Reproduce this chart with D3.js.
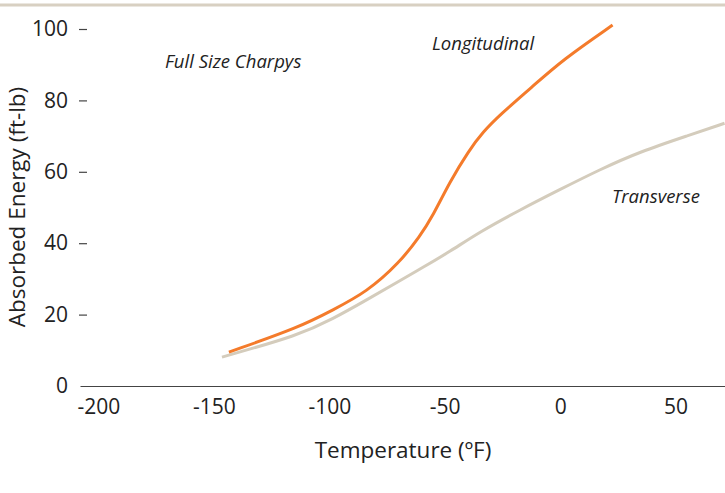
<!DOCTYPE html>
<html>
<head>
<meta charset="utf-8">
<script src="https://cdn.jsdelivr.net/npm/d3@7"></script>
<style>
  body { margin: 0; background: #fff; }
  svg text { font-family: "Open Sans", sans-serif; fill: #222; }
</style>
</head>
<body>
<svg id="chart" width="725" height="493"></svg>
<script>
// data
var xTicks = [-200, -150, -100, -50, 0, 50];
var yTicks = [0, 20, 40, 60, 80, 100];

var longTemp = [-143.5, -112.8, -98.5, -83.8, -69.5, -60.8, -55.2, -47.8, -39.5, -33.5, -26.2, -12.1, 0.9, 22.7];
var longEnergy = [9.5, 16.5, 21.3, 26.3, 34.6, 41.9, 47.6, 57.2, 66.0, 71.1, 75.9, 83.8, 91.3, 101.1];

var transTemp = [-146.5, -112.8, -98.5, -83.8, -69.5, -59.5, -47.9, -34.8, -17.5, -0.2, 17.1, 34.4, 56.1, 71.2];
var transEnergy = [8.1, 14.3, 18.8, 24.1, 29.5, 33.2, 37.6, 43.2, 49.3, 55.0, 60.6, 65.6, 70.3, 73.6];

window.onload = function(){

    var svg = d3.select("#chart");

    var x = d3.scaleLinear().domain([-208, 71.4]).range([80, 725]);
    var y = d3.scaleLinear().domain([0, 100]).range([386, 29]);

    // top rule
    svg.append('line')
            .attr('x1', 0).attr('x2', 725)
            .attr('y1', 5).attr('y2', 5)
            .attr('stroke', '#d8d0c2')
            .attr('stroke-width', 3);

    // x axis
    var xAxis = svg.append('g')
            .attr('transform', 'translate(0,386)')
            .call(d3.axisBottom(x).tickValues(xTicks).tickSize(0).tickPadding(13)
                  .tickFormat(function(d){ return d < 0 ? '-' + Math.abs(d) : d; }));
    xAxis.select('.domain').attr('stroke', '#444').attr('stroke-width', 1.2);
    xAxis.selectAll('text').attr('font-size', '21px').attr('fill', '#222')
            .attr('font-family', '"Open Sans", sans-serif');

    // y axis
    var yAxis = svg.append('g')
            .attr('transform', 'translate(87,0)')
            .call(d3.axisLeft(y).tickValues(yTicks).tickSize(8).tickPadding(11));
    yAxis.select('.domain').remove();
    yAxis.selectAll('.tick line').attr('stroke', '#444').attr('stroke-width', 1.2)
            .attr('display', function(d){ return d === 0 ? 'none' : null; });
    yAxis.selectAll('text').attr('font-size', '21px').attr('fill', '#222')
            .attr('font-family', '"Open Sans", sans-serif');

    // axis titles
    svg.append('text')
            .attr('x', 403).attr('y', 458)
            .attr('text-anchor', 'middle')
            .attr('font-size', '22.5px')
            .text('Temperature (ºF)');

    svg.append('text')
            .attr('transform', 'translate(25,207) rotate(-90)')
            .attr('text-anchor', 'middle')
            .attr('font-size', '22.5px')
            .text('Absorbed Energy (ft-lb)');

    var line = d3.line()
            .x(function(d){ return x(d[0]); })
            .y(function(d){ return y(d[1]); })
            .curve(d3.curveBasis);

    svg.append('path')
            .datum(d3.zip(transTemp, transEnergy))
            .attr('d', line)
            .attr('fill', 'none')
            .attr('stroke', '#d4ccbc')
            .attr('stroke-width', 3);

    svg.append('path')
            .datum(d3.zip(longTemp, longEnergy))
            .attr('d', line)
            .attr('fill', 'none')
            .attr('stroke', '#f47b2b')
            .attr('stroke-width', 3);

    // annotations
    var notes = [
        {t: 'Full Size Charpys', x: 165, y: 68},
        {t: 'Longitudinal', x: 432, y: 50},
        {t: 'Transverse', x: 612, y: 203}
    ];
    svg.selectAll('.note').data(notes).enter().append('text')
            .attr('class', 'note')
            .attr('x', function(d){ return d.x; })
            .attr('y', function(d){ return d.y; })
            .attr('font-size', '18.5px')
            .attr('font-style', 'italic')
            .text(function(d){ return d.t; });
}
</script>
</body>
</html>
